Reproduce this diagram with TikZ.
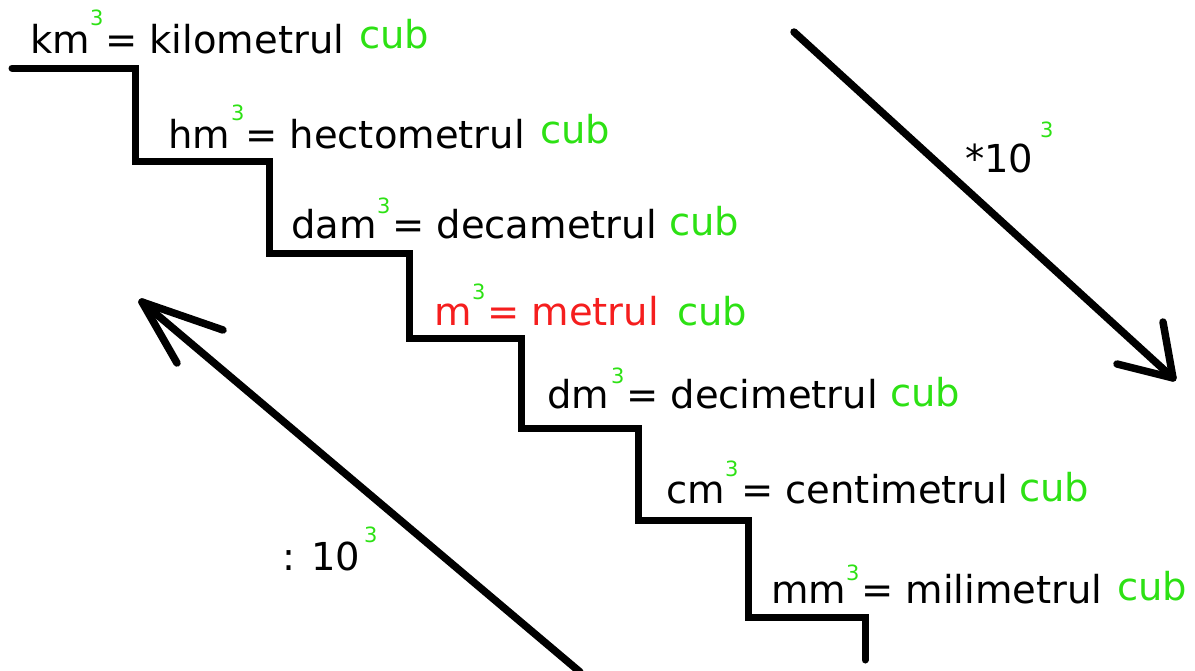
\documentclass[tikz,border=0pt]{standalone}
\usepackage{fontspec}
\setmainfont{DejaVu Sans}
\definecolor{cubgreen}{RGB}{45,225,20}
\definecolor{mred}{RGB}{245,30,30}
\tikzset{
  big/.style={inner sep=0pt, anchor=base west, font=\fontsize{38.5}{42}\selectfont},
  sup3/.style={inner sep=0pt, anchor=base west, text=cubgreen, font=\fontsize{21}{22}\selectfont},
  cubtxt/.style={big, text=cubgreen},
  stair/.style={line width=7pt, line cap=round, line join=miter},
  arr/.style={line width=7.5pt, line cap=round, line join=round}
}
\begin{document}
\begin{tikzpicture}[x=1pt,y=-1pt]
\useasboundingbox (0,0) rectangle (1195,670);
% stairs
\draw[stair] (12,68) -- (135,68) -- (135,161) -- (269,161) -- (269,253) -- (409,253) -- (409,338)
  -- (521,338) -- (521,428) -- (638,428) -- (638,520) -- (748,520) -- (748,617) -- (865,617) -- (865,660);
% row 1
\node[big] (u1) at (30,53) {km};
\node[sup3] (s1) at (90,25) {3};
\node[big] (e1) at (105,53) {= kilometrul};
\node[cubtxt] (c1) at (359,48) {cub};
% row 2
\node[big] (u2) at (168,148) {hm};
\node[sup3] (s2) at (231,120) {3};
\node[big] (e2) at (245,148) {= hectometrul};
\node[cubtxt] (c2) at (540,143) {cub};
% row 3
\node[big] (u3) at (291,238) {dam};
\node[sup3] (s3) at (377,213) {3};
\node[big] (e3) at (392,238) {= decametrul};
\node[cubtxt] (c3) at (669,235) {cub};
% row 4
\node[big, text=mred] (u4) at (434,325) {m};
\node[sup3] (s4) at (472,299) {3};
\node[big, text=mred] (e4) at (487,325) {= metrul};
\node[cubtxt] (c4) at (677,325) {cub};
% row 5
\node[big] (u5) at (547,408) {dm};
\node[sup3] (s5) at (611,383) {3};
\node[big] (e5) at (626,408) {= decimetrul};
\node[cubtxt] (c5) at (890,406) {cub};
% row 6
\node[big] (u6) at (666,503) {cm};
\node[sup3] (s6) at (725,476) {3};
\node[big] (e6) at (741,503) {= centimetrul};
\node[cubtxt] (c6) at (1019,501) {cub};
% row 7
\node[big] (u7) at (771,603) {mm};
\node[sup3] (s7) at (846,580) {3};
\node[big] (e7) at (861,603) {= milimetrul};
\node[cubtxt] (c7) at (1117,600) {cub};
% right arrow
\coordinate (ra) at (794,32);
\coordinate (rb) at (1173,378);
\coordinate (rh1) at (1163,322);
\coordinate (rh2) at (1117,364);
\draw[arr] (ra) -- (rb);
\draw[arr] (rh1) -- (rb) -- (rh2);
\node[big] (lr) at (965,172) {*10};
\node[sup3] (lrs) at (1040,137) {3};
% left arrow
\coordinate (la) at (580,672);
\coordinate (lb) at (142,302);
\coordinate (lh1) at (223,330);
\coordinate (lh2) at (177,363);
\draw[arr] (la) -- (lb);
\draw[arr] (lh1) -- (lb) -- (lh2);
\node[big] (ll) at (282,570) {: 10};
\node[sup3] (lls) at (364,542) {3};
\end{tikzpicture}
\end{document}
